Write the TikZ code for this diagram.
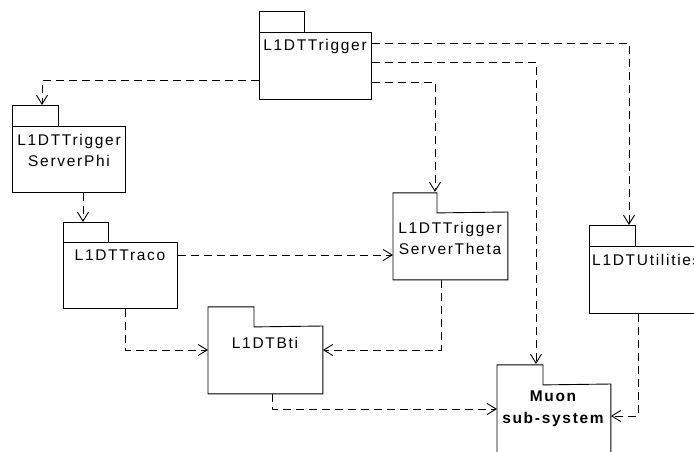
\documentclass[tikz,border=0pt]{standalone}
\usepackage{fontspec}
\setmainfont{Liberation Sans}[LetterSpace=11]
\usetikzlibrary{arrows.meta,calc}
\tikzset{
  pkg/.style={draw, line width=0.9pt, inner sep=0pt, anchor=north west, minimum width=113pt, minimum height=67pt},
  pkgpoly/.style={pkg, draw=none},
  outl/.style={line width=0.9pt},
  lbl/.style={inner sep=0pt, align=center, font=\fontsize{15.5}{21}\selectfont},
  dep/.style={line width=0.9pt, dash pattern=on 8pt off 5pt, -{Straight Barb[length=9pt,width=11pt,line width=0.9pt]}}
}
\begin{document}
\begin{tikzpicture}[x=1pt,y=-1pt]
\useasboundingbox (0,0) rectangle (694,451);
\clip (0,0) rectangle (694,451);
% packages
\node[pkg, minimum width=112pt] (trig) at (259,32) {};
\draw[outl] (trig.north west) rectangle ++(45,-21);
\node[lbl] (trigT) at (315,46) {L1DTTrigger};

\node[pkg, minimum height=66pt] (phi) at (12,126) {};
\draw[outl] (phi.north west) rectangle ++(46,-21);
\node[lbl] (phiT) at (69,150) {L1DTTrigger\\ServerPhi};

\node[pkg, minimum width=114pt, minimum height=66pt] (traco) at (63,242) {};
\draw[outl] (traco.north west) rectangle ++(45,-20);
\node[lbl] (tracoT) at (120,255) {L1DTTraco};

\node[pkgpoly, minimum width=114pt] (theta) at (393,212) {};
\draw[outl] (theta.south west) -- ++(0,-87) -- ++(44,0) -- ++(0,20) -- (theta.north east) -- (theta.south east) -- cycle;
\node[lbl] (thetaT) at (450,238) {L1DTTrigger\\ServerTheta};

\node[pkgpoly, minimum width=114pt] (bti) at (208,326) {};
\draw[outl] (bti.south west) -- ++(0,-87) -- ++(46,0) -- ++(0,20) -- (bti.north east) -- (bti.south east) -- cycle;
\node[lbl] (btiT) at (265,343) {L1DTBti};

\node[pkgpoly, minimum height=76pt] (muon) at (497,384) {};
\draw[outl] (muon.south west) -- ++(0,-96) -- ++(46,0) -- ++(0,20) -- (muon.north east) -- (muon.south east) -- cycle;
\node[lbl, font=\fontsize{15.5}{22}\selectfont\bfseries] (muonT) at (553,409) {Muon\\sub-system};

\node[pkg] (util) at (589,246) {};
\draw[outl] (util.north west) rectangle ++(46,-21);
\node[lbl, anchor=west] (utilT) at (592,260) {L1DTUtilities};

% dependencies
\draw[dep] ($(trig.south west)+(0,-19)$) -| ($(phi.north west)+(30,-21)$);
\draw[dep] ($(phi.south west)+(71,0)$) -- ($(traco.north west)+(20,-20)$);
\draw[dep] ($(traco.north east)+(0,13)$) -- ($(theta.north west)+(0,43)$);
\draw[dep] ($(traco.south west)+(62,0)$) |- ($(bti.north west)+(0,24)$);
\draw[dep] ($(theta.south west)+(48,0)$) |- ($(bti.north east)+(0,24)$);
\draw[dep] ($(bti.south west)+(64,0)$) |- ($(muon.north west)+(0,25)$);
\draw[dep] ($(util.south west)+(49,0)$) |- ($(muon.north east)+(0,32)$);
\draw[dep] ($(trig.north east)+(0,11)$) -| ($(util.north west)+(40,-21)$);
\draw[dep] ($(trig.north east)+(0,30)$) -| ($(muon.north west)+(39,-20)$);
\draw[dep] ($(trig.north east)+(0,50)$) -| ($(theta.north west)+(42,-20)$);
\end{tikzpicture}
\end{document}
